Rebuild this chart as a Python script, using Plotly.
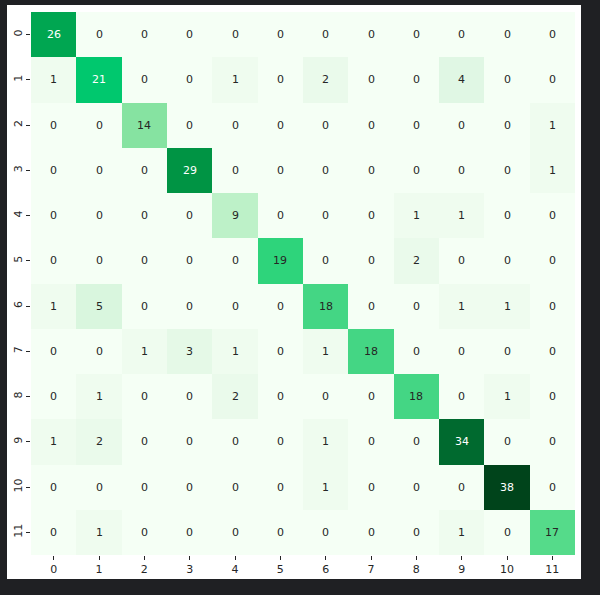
import plotly.graph_objects as go

labels = [str(i) for i in range(12)]
matrix = [
    [26, 0, 0, 0, 0, 0, 0, 0, 0, 0, 0, 0],
    [1, 21, 0, 0, 1, 0, 2, 0, 0, 4, 0, 0],
    [0, 0, 14, 0, 0, 0, 0, 0, 0, 0, 0, 1],
    [0, 0, 0, 29, 0, 0, 0, 0, 0, 0, 0, 1],
    [0, 0, 0, 0, 9, 0, 0, 0, 1, 1, 0, 0],
    [0, 0, 0, 0, 0, 19, 0, 0, 2, 0, 0, 0],
    [1, 5, 0, 0, 0, 0, 18, 0, 0, 1, 1, 0],
    [0, 0, 1, 3, 1, 0, 1, 18, 0, 0, 0, 0],
    [0, 1, 0, 0, 2, 0, 0, 0, 18, 0, 1, 0],
    [1, 2, 0, 0, 0, 0, 1, 0, 0, 34, 0, 0],
    [0, 0, 0, 0, 0, 0, 1, 0, 0, 0, 38, 0],
    [0, 1, 0, 0, 0, 0, 0, 0, 0, 1, 0, 17],
]

zmax = 38
colorscale = [
    [0.0, "#f5fff5"],
    [0.027, "#effcef"],
    [0.11, "#dff7e3"],
    [0.237, "#bdf1c8"],
    [0.368, "#86e3a1"],
    [0.447, "#55db8a"],
    [0.474, "#44d684"],
    [0.5, "#2ed47b"],
    [0.553, "#00c86e"],
    [0.684, "#00a651"],
    [0.763, "#009444"],
    [0.895, "#006a2f"],
    [1.0, "#00441b"],
]

fig = go.Figure(go.Heatmap(
    z=matrix, x=labels, y=labels, zmin=0, zmax=zmax,
    colorscale=colorscale, showscale=False, hoverinfo="skip",
))

annotations = []
for i, row in enumerate(matrix):
    for j, v in enumerate(row):
        annotations.append(dict(
            x=labels[j], y=labels[i], text=str(v), showarrow=False,
            font=dict(size=11, family="DejaVu Sans",
                      color="white" if v >= 20 else "#262626"),
        ))

L, R, T, B = 31, 25, 12, 40
pw, ph = 600 - L - R, 595 - T - B
fig.add_shape(type="rect", xref="paper", yref="paper",
              x0=(7 - L) / pw, x1=(581 - L) / pw,
              y0=(595 - B - 579) / ph, y1=(595 - B - 5) / ph,
              fillcolor="white", line=dict(width=0), layer="below")

fig.update_layout(
    width=600, height=595,
    margin=dict(l=L, r=R, t=T, b=B),
    paper_bgcolor="#1f2023", plot_bgcolor="white",
    annotations=annotations,
    font=dict(family="DejaVu Sans", size=11, color="#262626"),
    xaxis=dict(type="category", ticks="outside", ticklen=4, tickcolor="#262626",
               showgrid=False, zeroline=False, showline=False,
               tickfont=dict(size=11, color="#262626")),
    yaxis=dict(type="category", autorange="reversed", ticks="outside", ticklen=4,
               tickcolor="#262626", tickangle=-90, showgrid=False, zeroline=False,
               showline=False, tickfont=dict(size=11, color="#262626")),
)

fig.write_html("out.html")
